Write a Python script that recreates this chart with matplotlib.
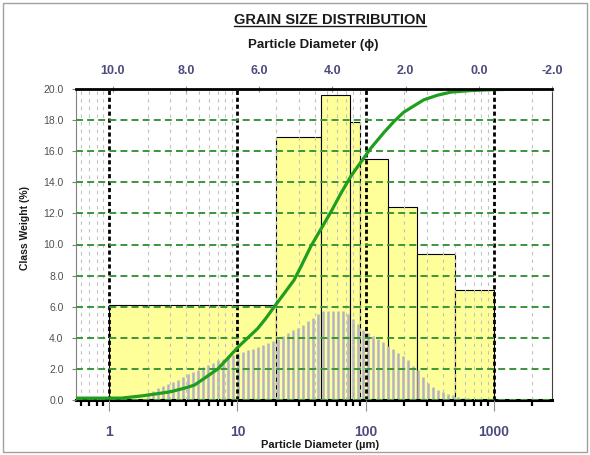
import numpy as np
import matplotlib.pyplot as plt
from matplotlib.ticker import FixedLocator, LogLocator, NullFormatter
from matplotlib.lines import Line2D
from matplotlib.patches import Rectangle

plt.rcParams['font.family'] = ['Liberation Sans', 'DejaVu Sans']
plt.rcParams['lines.scale_dashes'] = False

# sieve classes (um) and class weight (%)
sieve_edges = [1, 20, 45, 75, 90, 150, 250, 500, 1000]
class_weight = [6.1, 16.9, 19.6, 17.9, 15.5, 12.4, 9.4, 7.1]

# laser fine-bin distribution (um, %)
laser_size = [2.01, 2.20, 2.41, 2.64, 2.88, 3.15, 3.45, 3.77, 4.13, 4.52,
              4.94, 5.41, 5.92, 6.47, 7.08, 7.75, 8.47, 9.27, 10.1, 11.1,
              12.1, 13.3, 14.5, 15.9, 17.4, 19.0, 20.8, 22.7, 24.8, 27.2,
              29.7, 32.5, 35.6, 38.9, 42.6, 46.6, 50.9, 55.7, 61.0, 66.7,
              72.9, 79.8, 87.3, 95.5, 104, 114, 125, 137, 150, 164,
              179, 196, 214, 234, 256, 281, 307, 336, 367, 402,
              440, 481, 526, 575, 630]
laser_weight = [0.45, 0.6, 0.75, 0.9, 1.0, 1.15, 1.3, 1.5, 1.65, 1.8,
                1.95, 2.1, 2.25, 2.4, 2.55, 2.65, 2.8, 2.9, 3.0, 3.1,
                3.2, 3.3, 3.4, 3.55, 3.65, 3.8, 3.95, 4.1, 4.3, 4.5,
                4.65, 4.85, 5.05, 5.3, 5.5, 5.7, 5.75, 5.75, 5.75, 5.7,
                5.5, 5.2, 4.9, 4.5, 4.3, 4.1, 3.9, 3.7, 3.45, 3.3,
                3.05, 2.8, 2.55, 2.2, 1.9, 1.45, 1.1, 0.85, 0.65, 0.5,
                0.4, 0.3, 0.2, 0.15, 0.1]

# cumulative passing (%)
cum_size = [0.56, 1.24, 1.78, 2.54, 3.04, 3.86, 4.62, 5.53, 7.03, 8.41,
            10.1, 12.0, 14.4, 16.7, 19.4, 23.2, 27.7, 31.4, 37.5, 44.9,
            53.7, 64.3, 76.9, 92.0, 110, 139, 166, 198, 237, 284,
            364, 464, 660, 1000, 1990]
cum_pct = [0.6, 0.6, 1.3, 2.2, 2.7, 3.8, 4.8, 7.0, 10.0, 13.4,
           17.0, 19.9, 23.0, 26.3, 30.0, 34.3, 38.6, 43.0, 49.5, 55.0,
           60.5, 66.5, 72.0, 76.5, 81.0, 86.0, 89.5, 92.5, 94.5, 96.5,
           98.0, 99.0, 99.5, 99.8, 100.0]

phi_ticks = [10, 8, 6, 4, 2, 0, -2]
size_ticks = [1, 10, 100, 1000]

fig = plt.figure(figsize=(5.9, 4.55), dpi=100)
ax = fig.add_axes([76/590, 1-400/455, 476/590, 311/455])

# yellow sieve bars
lefts = np.array(sieve_edges[:-1])
widths = np.diff(sieve_edges)
ax.bar(lefts, class_weight, width=widths, align='edge', color='#FFFF99',
       edgecolor='black', linewidth=0.8, zorder=1)

# gray laser bins
ax.vlines(laser_size, 0, laser_weight, color='#B2B2C6', linewidth=1.8, zorder=2)

# cumulative curve (100 % -> top of the 0-20 axis)
ax.plot(cum_size, np.array(cum_pct) / 5.0, color='#1E9E1E', linewidth=2.3,
        zorder=5, solid_capstyle='round', solid_joinstyle='round')

ax.set_xscale('log')
ax.set_xlim(0.55, 2850)
ax.set_ylim(0, 20)

ax.xaxis.set_major_locator(FixedLocator(size_ticks))
ax.set_xticklabels([str(v) for v in size_ticks], fontsize=10, fontweight='bold',
                   color='#4B4B7D')
ax.xaxis.set_minor_locator(LogLocator(base=10, subs=np.arange(2, 10), numticks=20))
ax.xaxis.set_minor_formatter(NullFormatter())
ax.tick_params(axis='x', which='major', direction='out', length=8, width=0.8,
               color='#909090', pad=10)
ax.tick_params(axis='x', which='minor', direction='out', length=4, width=1.6,
               color='black')

ax.set_yticks(np.arange(0, 21, 2))
ax.set_yticklabels(['%.1f' % v for v in np.arange(0, 21, 2)], fontsize=7.5,
                   color='#505050')
ax.tick_params(axis='y', direction='out', length=3, width=0.8, color='#808080', pad=6)

# grid
ax.grid(axis='y', which='major', color='#3A963A', linewidth=1.4,
        linestyle=(0, (5, 3)), zorder=3)
ax.grid(axis='x', which='major', color='black', linewidth=2.0,
        linestyle=(0, (3, 2)))
ax.grid(axis='x', which='minor', color='#C2C2C2', linewidth=0.8,
        linestyle=(0, (2.5, 3)))
ax.set_axisbelow(False)

ax.spines['bottom'].set_linewidth(2.2)
ax.spines['bottom'].set_color('black')
ax.spines['left'].set_linewidth(0.8)
ax.spines['left'].set_color('#808080')
ax.spines['right'].set_linewidth(0.8)
ax.spines['right'].set_color('#404040')
ax.spines['top'].set_visible(False)

# phi axis on top
ax2 = ax.twiny()
ax2.set_xlim(11, -2)
ax2.set_xticks(phi_ticks)
ax2.set_xticklabels(['%.1f' % v for v in phi_ticks], fontsize=9, fontweight='bold',
                    color='#4B4B7D')
ax2.tick_params(axis='x', direction='inout', length=5, width=0.8, color='#909090',
                pad=6)
ax2.spines['top'].set_linewidth(2.0)
ax2.spines['top'].set_color('black')
for s in ['bottom', 'left', 'right']:
    ax2.spines[s].set_visible(False)

# texts
title = fig.text(330/590, 1-20/455, 'GRAIN SIZE DISTRIBUTION', ha='center',
                 va='center', fontsize=10.5, fontweight='bold', color='#1A1A1A')
fig.text(313/590, 1-45/455, 'Particle Diameter (ϕ)', ha='center', va='center',
         fontsize=9.5, fontweight='bold', color='#1A1A1A',
         family=['Liberation Sans', 'DejaVu Sans'])
fig.text(320/590, 1-445/455, 'Particle Diameter (µm)', ha='center', va='center',
         fontsize=8, fontweight='bold', color='#1A1A1A')
fig.text(25/590, 1-228/455, 'Class Weight (%)', ha='center', va='center',
         rotation=90, fontsize=7.5, fontweight='bold', color='#1A1A1A')

# underline title
fig.canvas.draw()
bb = title.get_window_extent().transformed(fig.transFigure.inverted())
fig.add_artist(Line2D([bb.x0, bb.x1], [bb.y0 + 0.002, bb.y0 + 0.002],
                      transform=fig.transFigure, color='#1A1A1A', linewidth=1.0))

# outer frame
fig.add_artist(Rectangle((3/590, 3/455), 584/590, 449/455, transform=fig.transFigure,
                         fill=False, edgecolor='#A0A0A0', linewidth=1.0))

fig.savefig('out.png', dpi=100)
